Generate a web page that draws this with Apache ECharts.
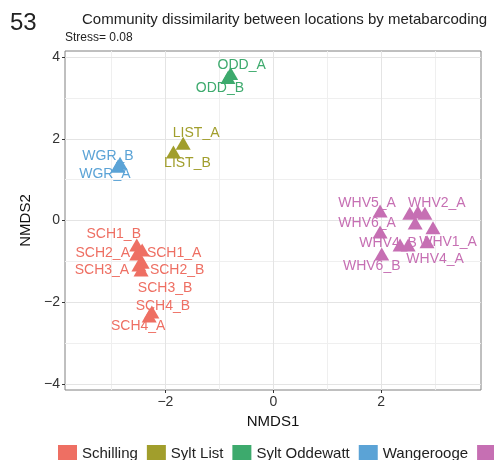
<!DOCTYPE html>
<html>
<head>
<meta charset="utf-8">
<script src="https://cdn.jsdelivr.net/npm/echarts@6/dist/echarts.min.js"></script>
<style>html,body{margin:0;padding:0;background:#fff;}#c{width:494px;height:460px;}</style>
</head>
<body>
<div id="c"></div>
<script>
// ---- data ----
const groups = ['Schilling', 'Sylt List', 'Sylt Oddewatt', 'Wangerooge', 'Wilhelmshaven'];
const schilling = [
  ['SCH1_B', -2.53, -0.60], ['SCH1_A', -2.43, -0.72], ['SCH2_A', -2.53, -0.82],
  ['SCH2_B', -2.43, -1.02], ['SCH3_A', -2.49, -1.09], ['SCH3_B', -2.45, -1.21],
  ['SCH4_B', -2.25, -2.24], ['SCH4_A', -2.30, -2.34]
];
const syltList = [['LIST_A', -1.67, 1.89], ['LIST_B', -1.85, 1.68]];
const syltOddewatt = [['ODD_A', -0.79, 3.60], ['ODD_B', -0.84, 3.50]];
const wangerooge = [['WGR_B', -2.84, 1.40], ['WGR_A', -2.88, 1.33]];
const wilhelmshaven = [
  ['WHV5_A', 1.98, 0.23], ['WHV6_A', 1.98, -0.28], ['WHV6_B', 2.01, -0.82],
  ['WHV3_A', 2.53, 0.18], ['WHV2_B', 2.68, 0.21], ['WHV2_A', 2.81, 0.18],
  ['WHV3_B', 2.63, -0.06], ['WHV1_A', 2.96, -0.18], ['WHV1_B', 2.85, -0.52],
  ['WHV4_B', 2.35, -0.60], ['WHV4_A', 2.50, -0.60]
];
const groupData = [schilling, syltList, syltOddewatt, wangerooge, wilhelmshaven];
const xMajor = [-2, 0, 2], xMinor = [-3, -1, 1, 3];
const yMajor = [-4, -2, 0, 2, 4], yMinor = [-3, -1, 1, 3];
const stress = 0.08;

// ---- layout / style ----
const colors = ['#EE6F63', '#A19E2C', '#3DAA6D', '#5BA3D6', '#C66FB3'];
const labelOffsets = {
  SCH1_B: [-23, -11], SCH2_A: [-34, -1], SCH1_A: [32, 3], SCH3_A: [-37, 5],
  SCH2_B: [35, 8], SCH3_B: [24, 18], SCH4_B: [11, -6], SCH4_A: [-11, 10],
  LIST_A: [13, -10], LIST_B: [14, 11], ODD_A: [11, -8], ODD_B: [-8, 11],
  WGR_B: [-12, -7], WGR_A: [-13, 8],
  WHV5_A: [-13, -8], WHV2_A: [12, -10], WHV6_A: [-13, -9], WHV4_B: [-12, -2],
  WHV1_A: [15, 14], WHV4_A: [27, 14], WHV6_B: [-10, 12]
};
const FONT = 'Liberation Sans, Arial, Helvetica, sans-serif';
const fmt = v => (xMajor.includes(v) || yMajor.includes(v)) ? String(v).replace('-', '\u2212') : '';

const series = groups.map((g, i) => ({
  name: g,
  type: 'scatter',
  symbol: 'triangle',
  symbolSize: [15, 13],
  itemStyle: { color: colors[i], opacity: 1 },
  z: 3,
  data: groupData[i].map(([n, x, y]) => {
    const off = labelOffsets[n];
    return {
      name: n,
      value: [x, y],
      label: off ? { show: true, offset: off } : { show: false }
    };
  }),
  label: {
    position: ['50%', '50%'],
    align: 'center',
    verticalAlign: 'middle',
    formatter: '{b}',
    color: colors[i],
    fontSize: 14,
    fontFamily: FONT,
    textBorderWidth: 0,
    textBorderColor: 'transparent'
  }
}));

series.unshift({
  name: 'grid',
  type: 'scatter',
  data: [],
  z: 0,
  silent: true,
  markLine: {
    silent: true,
    animation: false,
    z: 0,
    symbol: ['none', 'none'],
    label: { show: false },
    emphasis: { disabled: true },
    data: [
      ...xMinor.map(v => ({ xAxis: v, lineStyle: { color: '#efefef', width: 1, type: 'solid' } })),
      ...yMinor.map(v => ({ yAxis: v, lineStyle: { color: '#efefef', width: 1, type: 'solid' } })),
      ...xMajor.map(v => ({ xAxis: v, lineStyle: { color: '#e4e4e4', width: 1, type: 'solid' } })),
      ...yMajor.map(v => ({ yAxis: v, lineStyle: { color: '#e4e4e4', width: 1, type: 'solid' } }))
    ]
  }
});

const chart = echarts.init(document.getElementById('c'), null, { renderer: 'canvas' });
chart.setOption({
  animation: false,
  backgroundColor: '#fff',
  color: colors,
  grid: { left: 65, top: 51, width: 416, height: 339, show: true, borderColor: '#808080', borderWidth: 1, backgroundColor: 'transparent' },
  xAxis: {
    type: 'value', min: -3.86, max: 3.85, splitNumber: 4, position: 'bottom',
    axisLine: { show: false, onZero: false },
    axisTick: { show: true, length: 3, lineStyle: { color: '#333' } },
    splitLine: { show: false },
    axisLabel: { formatter: fmt, color: '#333', fontSize: 14, fontFamily: FONT, margin: 5, showMinLabel: false, showMaxLabel: false },
    name: 'NMDS1', nameLocation: 'middle', nameGap: 23,
    nameTextStyle: { color: '#111', fontSize: 15, fontFamily: FONT }
  },
  yAxis: {
    type: 'value', min: -4.15, max: 4.15, splitNumber: 4, position: 'left',
    axisLine: { show: false, onZero: false },
    axisTick: { show: true, length: 3, lineStyle: { color: '#333' } },
    splitLine: { show: false },
    axisLabel: { formatter: fmt, color: '#333', fontSize: 14, fontFamily: FONT, margin: 5, showMinLabel: false, showMaxLabel: false },
    name: 'NMDS2', nameLocation: 'middle', nameGap: 20, nameRotate: 90,
    nameTextStyle: { color: '#111', fontSize: 15, fontFamily: FONT }
  },
  legend: {
    data: groups,
    orient: 'horizontal',
    left: 53, top: 440, width: 2000,
    icon: 'rect', itemWidth: 19, itemHeight: 18, itemGap: 9,
    textStyle: { color: '#222', fontSize: 15, fontFamily: FONT },
    selectedMode: false
  },
  graphic: [
    { type: 'text', style: { text: '53', x: 10, y: 23.5, font: '24px ' + FONT, fill: '#222', textVerticalAlign: 'middle' } },
    { type: 'text', style: { text: 'Community dissimilarity between locations by metabarcoding', x: 82, y: 20, font: '15px ' + FONT, fill: '#222', textVerticalAlign: 'middle' } },
    { type: 'text', style: { text: 'Stress= ' + stress.toFixed(2), x: 65, y: 38, font: '12px ' + FONT, fill: '#222', textVerticalAlign: 'middle' } }
  ],
  series: series
});
</script>
</body>
</html>
